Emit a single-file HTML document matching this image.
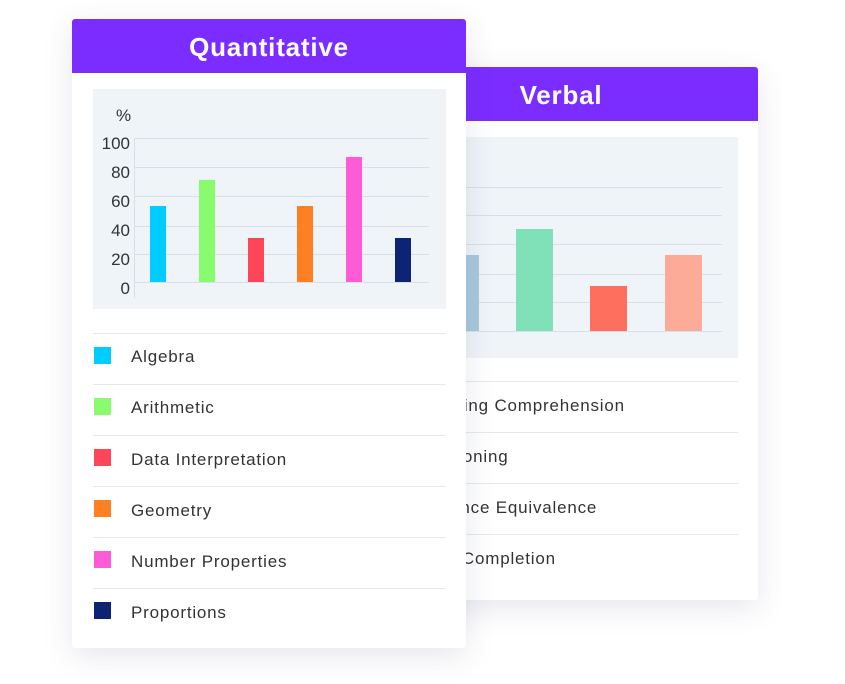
<!DOCTYPE html>
<html><head><style>
body{margin:0;width:845px;height:684px;background:#fff;position:relative;overflow:hidden;font-family:"Liberation Sans",sans-serif;}
.card{position:absolute;background:#fff;box-shadow:0 8px 30px rgba(60,70,110,0.13);border-radius:3px;}
.hd{position:absolute;left:0;right:0;top:0;height:54px;background:#7b2cff;color:#fff;font-weight:bold;font-size:26px;letter-spacing:0.8px;text-align:center;line-height:56px;border-radius:3px 3px 0 0;}
.abs{position:absolute;}
.gl{position:absolute;height:1px;background:#d8e0e6;}
.lab{position:absolute;font-size:17px;color:#333;width:40px;text-align:right;}
.row{position:absolute;height:1px;background:#e6e9ec;}
.lt{position:absolute;font-size:17px;color:#333;letter-spacing:0.8px;}
.sq{position:absolute;width:17px;height:17px;}
</style></head><body>
<!-- Verbal card -->
<div class="card" style="left:364px;top:67px;width:394px;height:533px;">
<div class="hd">Verbal</div>
</div>
<div class="abs" style="left:420px;top:137px;width:318px;height:221px;background:#eef4f8;"></div>
<div class="gl" style="left:430px;width:292px;top:187px"></div>
<div class="gl" style="left:430px;width:292px;top:215px"></div>
<div class="gl" style="left:430px;width:292px;top:244px"></div>
<div class="gl" style="left:430px;width:292px;top:274px"></div>
<div class="gl" style="left:430px;width:292px;top:302px"></div>
<div class="gl" style="left:430px;width:292px;top:331px"></div>
<div class="abs" style="left:442px;top:255px;width:37px;height:76px;background:#a8c8dc"></div>
<div class="abs" style="left:516px;top:229px;width:37px;height:102px;background:#80e0b8"></div>
<div class="abs" style="left:590px;top:286px;width:37px;height:45px;background:#ff6f5e"></div>
<div class="abs" style="left:665px;top:255px;width:37px;height:76px;background:#fbab98"></div>
<div class="row" style="left:400px;width:338px;top:381px"></div>
<div class="row" style="left:400px;width:338px;top:432px"></div>
<div class="row" style="left:400px;width:338px;top:483px"></div>
<div class="row" style="left:400px;width:338px;top:534px"></div>
<div class="lt" style="left:420px;top:396px">Reading Comprehension</div>
<div class="lt" style="left:420px;top:447px">Reasoning</div>
<div class="lt" style="left:412px;top:498px">Sentence Equivalence</div>
<div class="lt" style="left:422px;top:549px">Text Completion</div>

<!-- Quant card -->
<div class="card" style="left:72px;top:19px;width:394px;height:629px;">
<div class="hd">Quantitative</div>
<div class="abs" style="left:21px;top:70px;width:353px;height:220px;background:#eef4f8;"></div>
</div>
<div class="abs" style="left:116px;top:106px;font-size:17px;color:#333">%</div>
<div class="gl" style="left:134px;width:295px;top:138px"></div>
<div class="gl" style="left:134px;width:295px;top:167px"></div>
<div class="gl" style="left:134px;width:295px;top:196px"></div>
<div class="gl" style="left:134px;width:295px;top:226px"></div>
<div class="gl" style="left:134px;width:295px;top:254px"></div>
<div class="gl" style="left:134px;width:295px;top:282px"></div>
<div class="abs" style="left:134px;top:138px;width:1px;height:160px;background:#d8e0e6"></div>
<div class="lab" style="left:90px;top:134px">100</div>
<div class="lab" style="left:90px;top:163px">80</div>
<div class="lab" style="left:90px;top:192px">60</div>
<div class="lab" style="left:90px;top:221px">40</div>
<div class="lab" style="left:90px;top:250px">20</div>
<div class="lab" style="left:90px;top:279px">0</div>
<div class="abs" style="left:150px;top:206px;width:16px;height:76px;background:#00ccff"></div>
<div class="abs" style="left:199px;top:180px;width:16px;height:102px;background:#88fb6e"></div>
<div class="abs" style="left:248px;top:238px;width:16px;height:44px;background:#ff4558"></div>
<div class="abs" style="left:297px;top:206px;width:16px;height:76px;background:#ff8022"></div>
<div class="abs" style="left:346px;top:157px;width:16px;height:125px;background:#ff5ad8"></div>
<div class="abs" style="left:395px;top:238px;width:16px;height:44px;background:#0d2474"></div>
<div class="row" style="left:93px;width:353px;top:333px"></div>
<div class="row" style="left:93px;width:353px;top:384px"></div>
<div class="row" style="left:93px;width:353px;top:435px"></div>
<div class="row" style="left:93px;width:353px;top:486px"></div>
<div class="row" style="left:93px;width:353px;top:537px"></div>
<div class="row" style="left:93px;width:353px;top:588px"></div>
<div class="sq" style="left:94px;top:347px;background:#00ccff"></div><div class="lt" style="left:131px;top:347px">Algebra</div>
<div class="sq" style="left:94px;top:398px;background:#88fb6e"></div><div class="lt" style="left:131px;top:398px">Arithmetic</div>
<div class="sq" style="left:94px;top:449px;background:#ff4558"></div><div class="lt" style="left:131px;top:450px">Data Interpretation</div>
<div class="sq" style="left:94px;top:500px;background:#ff8022"></div><div class="lt" style="left:131px;top:501px">Geometry</div>
<div class="sq" style="left:94px;top:551px;background:#ff5ad8"></div><div class="lt" style="left:131px;top:552px">Number Properties</div>
<div class="sq" style="left:94px;top:602px;background:#0d2474"></div><div class="lt" style="left:131px;top:603px">Proportions</div>
</body></html>
